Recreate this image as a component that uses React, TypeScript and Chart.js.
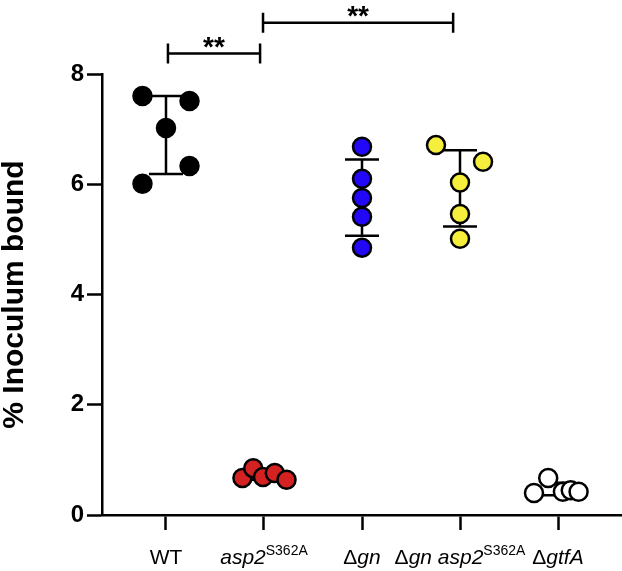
import React, { useEffect, useRef } from 'react';
import { Chart, registerables } from 'chart.js';

Chart.register(...registerables);

// ---------- data ----------
const categories = ['WT', 'asp2S362A', 'Δgn', 'Δgn asp2S362A', 'ΔgtfA'];

// rich-text parts for the category labels (i = italic, s = superscript)
const labelParts = [
  [{ t: 'WT' }],
  [{ t: 'asp2', i: true }, { t: 'S362A', s: true }],
  [{ t: 'Δ' }, { t: 'gn', i: true }],
  [{ t: 'Δ' }, { t: 'gn', i: true }, { t: ' ' }, { t: 'asp2', i: true }, { t: 'S362A', s: true }],
  [{ t: 'Δ' }, { t: 'gtfA', i: true }],
];

const wtValues = [7.6, 7.51, 7.02, 6.33, 6.01];
const wtJitter = [-0.24, 0.24, 0, 0.24, -0.24];

const asp2Values = [0.67, 0.85, 0.69, 0.76, 0.64];
const asp2Jitter = [-0.22, -0.11, -0.01, 0.11, 0.23];

const gnValues = [6.68, 6.1, 5.75, 5.41, 4.85];
const gnJitter = [0, 0, 0, 0, 0];

const gnAsp2Values = [6.71, 6.41, 6.03, 5.46, 5.01];
const gnAsp2Jitter = [-0.245, 0.235, 0, 0, 0];

const gtfAValues = [0.4, 0.67, 0.42, 0.45, 0.42];
const gtfAJitter = [-0.245, -0.1, 0.05, 0.13, 0.21];

const groupValues = [wtValues, asp2Values, gnValues, gnAsp2Values, gtfAValues];
const groupJitter = [wtJitter, asp2Jitter, gnJitter, gnAsp2Jitter, gtfAJitter];

const yTickValues = [0, 2, 4, 6, 8];
const yTitle = '% Inoculum bound';

// significance brackets (x in category units, level in y units)
const bracketFrom = [0.02, 0.99];
const bracketTo = [0.96, 2.93];
const bracketLevel = [8.37, 8.93];
const bracketLabel = ['**', '**'];

// ---------- styles ----------
const fillColors = ['#000000', '#d42222', '#2208f6', '#f6ee3c', '#ffffff'];
const FONT = '"Liberation Sans", Arial, Helvetica, sans-serif';

function meanSd(vals: number[]) {
  const m = vals.reduce((a, b) => a + b, 0) / vals.length;
  const v = vals.reduce((a, b) => a + (b - m) * (b - m), 0) / (vals.length - 1);
  return { m, sd: Math.sqrt(v) };
}

const errorBarPlugin = {
  id: 'errorBars',
  beforeDatasetsDraw(chart: any) {
    const { ctx, scales } = chart;
    const xs = scales.x;
    const ys = scales.y;
    ctx.save();
    ctx.strokeStyle = '#000';
    ctx.lineWidth = 2.5;
    groupValues.forEach((vals, gi) => {
      const { m, sd } = meanSd(vals);
      const cx = xs.getPixelForValue(gi);
      const yTop = ys.getPixelForValue(m + sd);
      const yBot = ys.getPixelForValue(m - sd);
      ctx.beginPath();
      ctx.moveTo(cx, yTop);
      ctx.lineTo(cx, yBot);
      ctx.moveTo(cx - 17, yTop);
      ctx.lineTo(cx + 17, yTop);
      ctx.moveTo(cx - 17, yBot);
      ctx.lineTo(cx + 17, yBot);
      ctx.stroke();
    });
    ctx.restore();
  },
  afterDraw(chart: any) {
    const { ctx, scales } = chart;
    const xs = scales.x;
    const ys = scales.y;
    ctx.save();
    // category labels
    ctx.fillStyle = '#000';
    ctx.textBaseline = 'alphabetic';
    ctx.textAlign = 'left';
    const baseY = xs.top + 49;
    labelParts.forEach((parts, gi) => {
      const fontFor = (p: any) =>
        p.s ? `14px ${FONT}` : p.i ? `italic 21px ${FONT}` : `21px ${FONT}`;
      let total = 0;
      const widths = parts.map((p: any) => {
        ctx.font = fontFor(p);
        const w = ctx.measureText(p.t).width;
        total += w;
        return w;
      });
      let x = xs.getPixelForValue(gi) - total / 2;
      parts.forEach((p: any, k: number) => {
        ctx.font = fontFor(p);
        ctx.fillText(p.t, x, p.s ? baseY - 9 : baseY);
        x += widths[k];
      });
    });
    // brackets
    ctx.strokeStyle = '#000';
    ctx.lineWidth = 2.5;
    ctx.font = `bold 28px ${FONT}`;
    ctx.textAlign = 'center';
    bracketLevel.forEach((lvl, bi) => {
      const x1 = xs.getPixelForValue(bracketFrom[bi]);
      const x2 = xs.getPixelForValue(bracketTo[bi]);
      const y = ys.getPixelForValue(lvl);
      ctx.beginPath();
      ctx.moveTo(x1, y);
      ctx.lineTo(x2, y);
      ctx.moveTo(x1, y - 10);
      ctx.lineTo(x1, y + 10);
      ctx.moveTo(x2, y - 10);
      ctx.lineTo(x2, y + 10);
      ctx.stroke();
      ctx.fillText(bracketLabel[bi], (x1 + x2) / 2, y + 2);
    });
    ctx.restore();
  },
};

export default function App() {
  const ref = useRef<HTMLCanvasElement | null>(null);
  useEffect(() => {
    if (!ref.current) return;
    const datasets = groupValues.map((vals, gi) => ({
      label: categories[gi],
      data: vals.map((v, i) => ({ x: gi + groupJitter[gi][i], y: v })),
      backgroundColor: fillColors[gi],
      borderColor: '#000',
      borderWidth: 2.5,
      pointRadius: 9,
      pointHoverRadius: 9,
      clip: false as any,
    }));
    const chart = new Chart(ref.current, {
      type: 'scatter',
      data: { datasets },
      plugins: [errorBarPlugin],
      options: {
        animation: false,
        responsive: true,
        maintainAspectRatio: false,
        layout: { autoPadding: false, padding: { top: 74, left: 0, right: 0, bottom: 0 } },
        plugins: { legend: { display: false }, tooltip: { enabled: false } },
        scales: {
          x: {
            type: 'linear',
            min: -0.653,
            max: 4.653,
            afterBuildTicks: (s: any) => {
              s.ticks = categories.map((_, i) => ({ value: i }));
            },
            afterFit: (s: any) => {
              s.height = 56;
              s.paddingLeft = 0;
              s.paddingRight = 0;
            },
            ticks: { callback: () => '', autoSkip: false },
            grid: {
              display: true,
              drawOnChartArea: false,
              drawTicks: true,
              tickLength: 15,
              tickWidth: 2.5,
              tickColor: '#000',
            },
            border: { display: true, color: '#000', width: 2.5 },
          },
          y: {
            min: 0,
            max: 8,
            afterBuildTicks: (s: any) => {
              s.ticks = yTickValues.map((v) => ({ value: v }));
            },
            afterFit: (s: any) => {
              s.width = 102;
            },
            ticks: {
              color: '#000',
              padding: 3,
              font: { family: FONT, size: 24, weight: 'bold' },
            },
            grid: {
              display: true,
              drawOnChartArea: false,
              drawTicks: true,
              tickLength: 15,
              tickWidth: 2.5,
              tickColor: '#000',
            },
            border: { display: true, color: '#000', width: 2.5 },
            title: {
              display: true,
              text: yTitle,
              color: '#000',
              padding: 0,
              font: { family: FONT, size: 30, weight: 'bold', lineHeight: 1.0 },
            },
          },
        },
      } as any,
    });
    return () => chart.destroy();
  }, []);
  return (
    <div style={{ position: 'fixed', left: 0, top: 0, width: 622, height: 571 }}>
      <canvas ref={ref} />
    </div>
  );
}
